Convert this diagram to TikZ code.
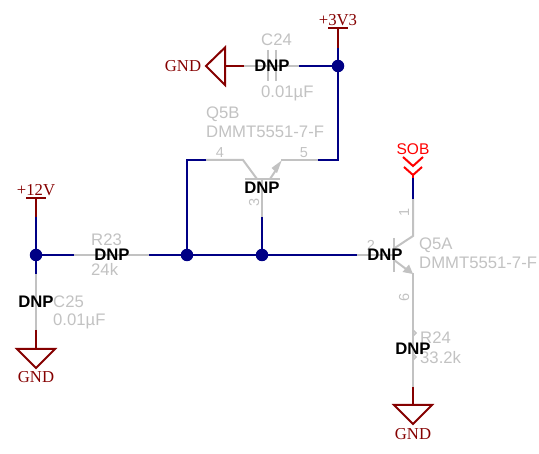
\documentclass[tikz,border=0pt]{standalone}
\usepackage{fontspec}
\setmainfont{Liberation Sans}
\newfontfamily\serifnet{Liberation Serif}
\usetikzlibrary{calc}
\definecolor{netred}{HTML}{850000}
\definecolor{netblue}{HTML}{000085}
\definecolor{dnpgrey}{HTML}{C2C2C2}
\definecolor{hier}{HTML}{FF0000}
\tikzset{
  wire/.style={netblue,line width=2pt,line cap=butt},
  pwr/.style={netred,line width=2pt,line cap=butt,line join=miter},
  part/.style={dnpgrey,line width=2pt,line cap=butt},
  dot/.style={circle,fill=netblue,draw=none,minimum size=12.5pt,inner sep=0pt},
  reflabel/.style={dnpgrey,font=\fontsize{16.7}{16.7}\selectfont,inner sep=0pt,anchor=west,text height=11.8pt,text depth=0pt},
  pinlabel/.style={dnpgrey,font=\fontsize{14.5}{14.5}\selectfont,inner sep=0pt,text height=10.4pt,text depth=0pt},
  dnplabel/.style={black,font=\fontsize{16.7}{16.7}\selectfont\bfseries,inner sep=0pt,text height=11.8pt,text depth=0pt},
  pwrlabel/.style={netred,font=\fontsize{16.7}{16.7}\serifnet\selectfont,inner sep=0pt,text height=11pt,text depth=0pt},
}
\begin{document}
\begin{tikzpicture}[x=1pt,y=-1pt]
\useasboundingbox (0,0) rectangle (539,454);
% junctions and key points
\coordinate (j33) at (338,66);
\coordinate (j12) at (36,255);
\coordinate (jc) at (187,255);
\coordinate (jb) at (262,255);
\coordinate (tip5) at (281.7,160.5);
\coordinate (tip6) at (413,274);

% --- grey part bodies ---
% C24
\draw[part] (244,66) -- (299,66);
\draw[part] (268,50) -- (268,81);
\draw[part] (276,50) -- (276,81);
% R23
\draw[part] (74,255) -- (149,255);
% C25
\draw[part] (36,274) -- (36,330);
% Q5B
\draw[part] (206,160) -- (243,160) -- (257,179);
\draw[part] (245,179) -- (280,179);
\draw[part] (262,179) -- (262,217);
\draw[part] (270,179) -- (278,167);
\draw[part] (281,160) -- (318,160);
\fill[dnpgrey] (tip5) -- (271.5,168) -- (277,173) -- cycle;
% Q5A
\draw[part] (357,255) -- (394,255);
\draw[part] (394,238) -- (394,272);
\draw[part] (394,248.5) -- (413,236) -- (413,199);
\draw[part] (394,260) -- (406,269);
\draw[part] (413,273) -- (413,387);
\fill[dnpgrey] (tip6) -- (409,264.5) -- (402.5,272) -- cycle;
% R24 zigzag stubs
\draw[dnpgrey,line width=1.5pt] (413,330) -- (416,333) -- (413,336);
\draw[dnpgrey,line width=1.5pt] (413,360) -- (416,357) -- (413,354);

% --- nets ---
\draw[wire] (299,66) -- (j33);
\draw[wire] (338,48) -- (338,160) -- (318,160);
\draw[wire] (206,160) -- (187,160) -- (jc);
\draw[wire] (262,217) -- (jb);
\draw[wire] (36,217) -- (36,274);
\draw[wire] (j12) -- (74,255);
\draw[wire] (149,255) -- (357,255);
\draw[wire] (413,199) -- (413,178);
\node[dot] at (j33) {};
\node[dot] at (j12) {};
\node[dot] at (jc) {};
\node[dot] at (jb) {};

% --- power symbols ---
\draw[pwr] (328,28) -- (348,28);
\draw[pwr] (338,28) -- (338,48);
\node[pwrlabel] (v33) at (338,20) {+3V3};
\draw[pwr] (26,198) -- (46,198);
\draw[pwr] (36,198) -- (36,217);
\node[pwrlabel] (v12) at (36,190) {+12V};
% GND C24
\draw[pwr] (244,66) -- (225,66);
\draw[pwr] (225,47.5) -- (206,66) -- (225,85) -- cycle;
\node[pwrlabel] (g1) at (183,66.5) {GND};
% GND C25
\draw[pwr] (36,330) -- (36,349);
\draw[pwr] (17,349) -- (55,349) -- (36,368) -- cycle;
\node[pwrlabel] (g2) at (36,377) {GND};
% GND R24
\draw[pwr] (413,387) -- (413,405);
\draw[pwr] (394,405) -- (432,405) -- (413,424) -- cycle;
\node[pwrlabel] (g3) at (413,434.5) {GND};
% SOB port
\draw[hier,line width=2pt] (403,157) -- (413,166) -- (423,157);
\draw[hier,line width=2pt] (404,167) -- (413,175) -- (422,167);
\draw[hier,line width=2pt] (413,175) -- (413,178);
\node[hier,font=\fontsize{15.5}{15.5}\selectfont,inner sep=0pt,text height=11pt,text depth=0pt] (sob) at (413,149) {SOB};

% --- reference text ---
\node[reflabel] (c24) at (261,40) {C24};
\node[reflabel] (c24v) at (261,92) {0.01µF};
\node[reflabel] (q5b) at (206,113) {Q5B};
\node[reflabel] (q5bv) at (206,132) {DMMT5551-7-F};
\node[reflabel] (q5a) at (419,244) {Q5A};
\node[reflabel] (q5av) at (419,263) {DMMT5551-7-F};
\node[reflabel] (r23) at (91,240) {R23};
\node[reflabel] (r23v) at (91,270) {24k};
\node[reflabel] (c25) at (53,302) {C25};
\node[reflabel] (c25v) at (53,320) {0.01µF};
\node[reflabel] (r24) at (420,338) {R24};
\node[reflabel] (r24v) at (420,358) {33.2k};
\node[pinlabel] (p4) at (220,152) {4};
\node[pinlabel] (p5) at (304,152) {5};
\node[pinlabel,rotate=90] (p3) at (254,202) {3};
\node[pinlabel] (p2) at (371,245) {2};
\node[pinlabel,rotate=90] (p1) at (404,212) {1};
\node[pinlabel,rotate=90] (p6) at (404,297) {6};

% --- DNP ---
\node[dnplabel] (d1) at (272,66) {DNP};
\node[dnplabel] (d2) at (262,188) {DNP};
\node[dnplabel] (d3) at (112,255) {DNP};
\node[dnplabel] (d4) at (385,255) {DNP};
\node[dnplabel] (d5) at (36,302) {DNP};
\node[dnplabel] (d6) at (413,349) {DNP};
\end{tikzpicture}
\end{document}
